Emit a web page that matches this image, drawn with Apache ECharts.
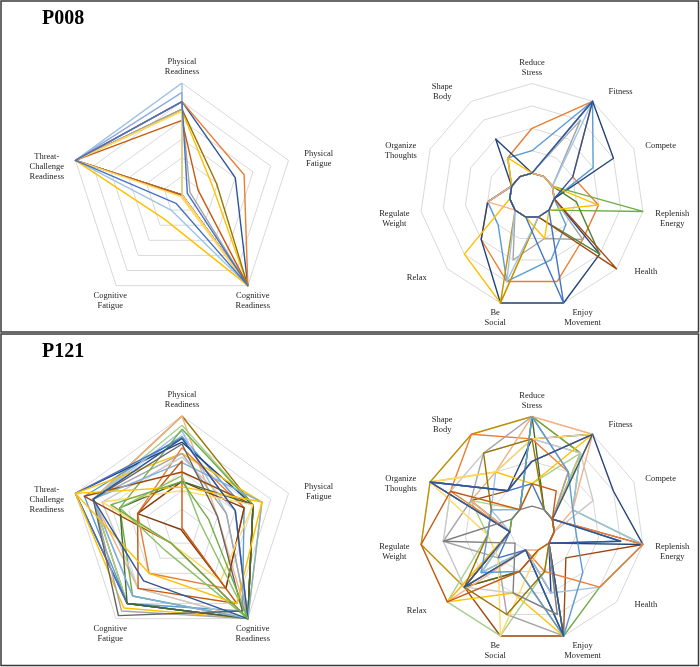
<!DOCTYPE html>
<html>
<head>
<meta charset="utf-8">
<script src="https://cdn.jsdelivr.net/npm/echarts@6/dist/echarts.min.js"></script>
<style>
  html, body { margin: 0; padding: 0; background: #fff; }
  #chart { width: 700px; height: 667px; }
</style>
</head>
<body>
<div id="chart"></div>
<script>
// axis names, listed clockwise from the top
const readinessAxes = ['Physical\nReadiness', 'Physical\nFatigue', 'Cognitive\nReadiness', 'Cognitive\nFatigue', 'Threat-\nChallenge\nReadiness'];
const motiveAxes = ['Reduce\nStress', 'Fitness', 'Compete', 'Replenish\nEnergy', 'Health', 'Enjoy\nMovement', 'Be\nSocial', 'Relax', 'Regulate\nWeight', 'Organize\nThoughts', 'Shape\nBody'];

const readinessTicks = [0, 1, 2, 3, 4, 5, 6];
const motiveTicks = [0, 1, 2, 3, 4, 5];

// P008 readiness (PR, PF, CR, CF, TC)
const p008Readiness = [
  [6, 0, 6, 1.0, 6],
  [5.5, 0, 6, 0, 6],
  [5, 3.0, 6, 0, 6],
  [5, 3.5, 6, 0, 6],
  [4.5, 1.7, 6, 1.6, 6],
  [4.6, 1.95, 6, 0, 6],
  [4.6, 0.45, 6, 0, 6],
  [4.0, 0.9, 6, 0, 6],
  [4.5, 0, 6, 0.1, 6],
  [5, 0.3, 6, 0.55, 6]
];
const p008ReadinessColors = ['#9DC3E6', '#8FAADC', '#2F5597', '#ED7D31', '#FFC000', '#997300', '#A5A5A5', '#C55A11', '#FFD966', '#4472C4'];

// P008 motives (RS, Fit, Comp, Rep, Health, Enjoy, Social, Relax, Reg, Org, Shape)
const p008Motives = [
  [3, 5, 2, 3, 3, 4, 4, 3, 2, 1, 2],
  [2, 5, 3, 1, 2, 3, 4, 2, 2, 1, 2],
  [1, 5, 4, 1, 4, 5, 5, 3, 2, 1, 3],
  [1, 4, 1, 1, 3, 2, 3, 1, 1, 1, 1],
  [1, 1, 1, 5, 1, 1, 1, 1, 1, 1, 1],
  [1, 1, 1, 2, 4, 1, 1, 1, 1, 1, 1],
  [1, 1, 1, 1, 5, 1, 1, 1, 1, 1, 1],
  [1, 1, 1, 3, 1, 2, 1, 1, 1, 1, 2],
  [1, 1, 1, 1, 1, 1, 5, 4, 1, 1, 1],
  [1, 1, 1, 1, 1, 1, 5, 1, 1, 1, 1],
  [1, 5, 1, 1, 1, 1, 4, 1, 1, 1, 1],
  [1, 1, 1, 1, 1, 5, 1, 1, 1, 1, 1],
  [1, 1, 1, 1, 1, 1, 1, 1, 2, 1, 1],
  [1, 5, 2, 1, 1, 1, 1, 1, 1, 1, 1]
];
const p008MotiveColors = ['#ED7D31', '#5B9BD5', '#264478', '#A5A5A5', '#70AD47', '#548235', '#9E480E', '#FFC000', '#FFC000', '#BF9000', '#9DC3E6', '#4472C4', '#F4B183', '#2F5597'];

// P121 readiness (PR, PF, CR, CF, TC)
const p121Readiness = [
  [6, 4, 6, 5, 5],
  [6, 2, 6, 4, 5],
  [5.5, 4, 6, 5, 5],
  [4.9, 3.5, 5.5, 5, 5.5],
  [4.6, 4, 6, 5, 6],
  [5.2, 2.5, 6, 4.5, 5],
  [4.8, 3, 6, 5, 6],
  [4.0, 4.5, 6, 5.3, 6],
  [4.3, 3.5, 4, 3, 2.5],
  [4, 2.5, 6, 5.5, 5],
  [5.3, 4, 6, 4.5, 3.5],
  [3.8, 3, 6, 4, 4.5],
  [3.0, 4, 6, 1, 5.5],
  [2.5, 3.5, 4, 0.1, 2.5],
  [2.5, 4, 6, 5, 3.5],
  [2.0, 4, 3.5, 1, 4.5],
  [3.5, 4.5, 6, 4.5, 5],
  [3.6, 0, 5, 4, 2.5],
  [2.8, 1.0, 6, 1.5, 3.5],
  [4.5, 2, 5.5, 5.8, 5],
  [2.2, 4.5, 5, 3, 6],
  [4.8, 3, 6, 3.5, 5],
  [2.5, 1.5, 6, 1.0, 4]
];
const p121ReadinessColors = ['#997300', '#F4B183', '#A9D18E', '#5B9BD5', '#264478', '#9DC3E6', '#4472C4', '#FFC000', '#ED7D31', '#A5A5A5', '#70AD47', '#C9C9C9', '#9E480E', '#843C0C', '#43682B', '#FFD966', '#7CAFDD', '#C55A11', '#8CC168', '#636363', '#FFC000', '#2F5597', '#70AD47'];

// P121 motives (RS, Fit, Comp, Rep, Health, Enjoy, Social, Relax, Reg, Org, Shape)
const p121Motives = [
  [5, 4, 1, 1, 1, 5, 2, 4, 5, 5, 5],
  [3, 5, 1, 5, 2, 5, 5, 4, 1, 3, 2],
  [4, 5, 4, 5, 1, 3, 1, 4, 1, 5, 2],
  [5, 1, 1, 1, 1, 1, 2, 4, 1, 1, 1],
  [5, 4, 2, 5, 4, 5, 1, 3, 1, 1, 1],
  [2, 4, 1, 1, 1, 2, 5, 5, 2, 3, 1],
  [4, 4, 2, 5, 4, 3, 1, 3, 1, 2, 3],
  [4, 3, 1, 5, 4, 2, 1, 4, 1, 4, 5],
  [5, 5, 2, 1, 1, 1, 1, 5, 1, 3, 3],
  [5, 3, 1, 1, 1, 5, 4, 2, 4, 3, 4],
  [4, 4, 3, 1, 1, 4, 3, 4, 4, 4, 4],
  [2, 5, 1, 1, 1, 5, 3, 5, 1, 5, 3],
  [4, 5, 1, 1, 1, 1, 5, 2, 2, 5, 3],
  [2, 1, 1, 4, 1, 5, 1, 2, 1, 5, 2],
  [4, 1, 1, 1, 1, 2, 4, 4, 2, 2, 4],
  [5, 3, 2, 2, 3, 5, 2, 3, 2, 2, 1],
  [3, 5, 1, 4, 1, 5, 1, 4, 1, 5, 2],
  [1, 1, 1, 1, 1, 4, 3, 1, 4, 1, 1],
  [2, 2, 1, 1, 1, 1, 2, 5, 5, 4, 1]
];
const p121MotiveColors = ['#BF9000', '#9E480E', '#264478', '#43682B', '#70AD47', '#A9D18E', '#9DC3E6', '#ED7D31', '#F4B183', '#A5A5A5', '#C9C9C9', '#FFC000', '#FFD966', '#4472C4', '#997300', '#5B9BD5', '#2F5597', '#7F7F7F', '#C55A11'];

// label nudges [dx, dy] from the default name spot
const readinessNameShift = [[0, 0], [15, 3.5], [-4.5, 2.5], [3.5, 2.5], [-13.5, 11]];
const motiveNameShift = [[0, 0], [19.4, 4.2], [12.2, 3.6], [13.6, 5], [17.2, -7.3], [14.5, -0.7], [-0.8, -0.7], [-18.5, -2], [-11, 5], [-14.8, 8.6], [-20.6, 4.2]];

const serif = 'Liberation Serif';

// echarts lays indicators out counter-clockwise
const ccw = arr => [arr[0], ...arr.slice(1).reverse()];

function axisName(names, shifts) {
  const rich = {};
  names.forEach((n, i) => {
    const [dx, dy] = shifts[i];
    rich['n' + i] = {
      fontFamily: serif, fontSize: 8.5, lineHeight: 10, color: '#1f1f1f', align: 'center',
      padding: [dy > 0 ? 2 * dy : 0, dx < 0 ? -2 * dx : 0, dy < 0 ? -2 * dy : 0, dx > 0 ? 2 * dx : 0]
    };
  });
  return {
    color: '#1f1f1f', fontFamily: serif, fontSize: 8.5, lineHeight: 10,
    align: 'center', verticalAlign: 'middle',
    formatter: name => {
      const i = names.indexOf(name);
      return name.split('\n').map(l => '{n' + i + '|' + l + '}').join('\n');
    },
    rich
  };
}

function radar(center, names, shifts, ticks) {
  return {
    center, radius: 112, startAngle: 90, shape: 'polygon',
    splitNumber: ticks.length - 1,
    indicator: ccw(names).map(n => ({ name: n, min: ticks[0], max: ticks[ticks.length - 1] })),
    nameGap: 16,
    axisName: axisName(names, shifts),
    splitLine: { lineStyle: { color: '#d9d9d9', width: 1 } },
    splitArea: { show: false },
    axisLine: { show: false },
    axisTick: { show: false },
    axisLabel: { show: false }
  };
}

function lines(radarIndex, rows, colors) {
  return {
    type: 'radar', radarIndex, symbol: 'none', silent: true,
    lineStyle: { width: 1.4 },
    data: rows.map((r, i) => ({
      value: ccw(r),
      lineStyle: { color: colors[i], width: 1.4 },
      itemStyle: { color: colors[i] }
    }))
  };
}

const titleStyle = { fontFamily: serif, fontWeight: 'bold', fontSize: 20, color: '#000' };

const chart = echarts.init(document.getElementById('chart'));
chart.setOption({
  animation: false,
  backgroundColor: '#fff',
  title: [
    { text: 'P008', left: 42, top: 9, padding: 0, textStyle: titleStyle },
    { text: 'P121', left: 42, top: 342, padding: 0, textStyle: titleStyle }
  ],
  graphic: [
    { type: 'rect', shape: { x: 1, y: 1, width: 697.5, height: 331 }, style: { fill: 'none', stroke: '#3a3a3a', lineWidth: 1.5 } },
    { type: 'rect', shape: { x: 1, y: 334, width: 697.5, height: 331.5 }, style: { fill: 'none', stroke: '#3a3a3a', lineWidth: 1.5 } }
  ],
  radar: [
    radar([182, 195], readinessAxes, readinessNameShift, readinessTicks),
    radar([532, 195.5], motiveAxes, motiveNameShift, motiveTicks),
    radar([182, 528], readinessAxes, readinessNameShift, readinessTicks),
    radar([532, 528.5], motiveAxes, motiveNameShift, motiveTicks)
  ],
  series: [
    lines(0, p008Readiness, p008ReadinessColors),
    lines(1, p008Motives, p008MotiveColors),
    lines(2, p121Readiness, p121ReadinessColors),
    lines(3, p121Motives, p121MotiveColors)
  ]
});
</script>
</body>
</html>
